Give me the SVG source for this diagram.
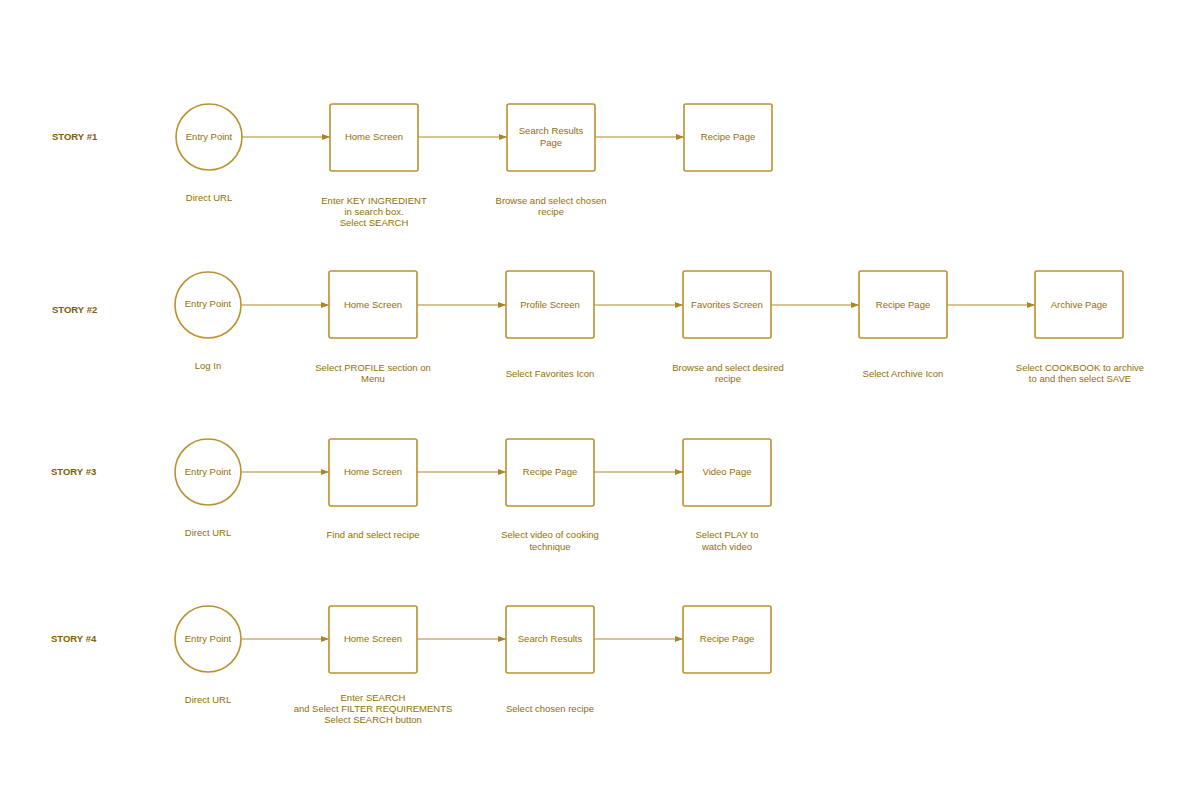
<svg xmlns="http://www.w3.org/2000/svg" width="1200" height="800" viewBox="0 0 1200 800">
<style>
.node{fill:#fff;stroke:#b8922e;stroke-width:1.6}
.lbl{font-family:"Liberation Sans",Arial,sans-serif;font-size:9.5px;fill:#927000;text-anchor:middle}
.story{font-family:"Liberation Sans",Arial,sans-serif;font-size:9.5px;font-weight:bold;fill:#7e6000}
.conn{stroke:#b08a2a;stroke-width:1.1;fill:none;marker-end:url(#ah)}
</style>
<defs>
<marker id="ah" markerWidth="8" markerHeight="6" refX="8" refY="3" orient="auto" markerUnits="userSpaceOnUse">
<path d="M0,0 L8,3 L0,6 Z" fill="#a8842a"/>
</marker>
</defs>
<rect width="1200" height="800" fill="#fff"/>

<g id="connectors">
<path class="conn" d="M242,137 H330"/>
<path class="conn" d="M418,137 H507"/>
<path class="conn" d="M595,137 H684"/>

<path class="conn" d="M241,305 H329"/>
<path class="conn" d="M417,305 H506"/>
<path class="conn" d="M594,305 H683"/>
<path class="conn" d="M771,305 H859"/>
<path class="conn" d="M947,305 H1035"/>

<path class="conn" d="M241,472 H329"/>
<path class="conn" d="M417,472 H506"/>
<path class="conn" d="M594,472 H683"/>

<path class="conn" d="M241,639 H329"/>
<path class="conn" d="M417,639 H506"/>
<path class="conn" d="M594,639 H683"/>
</g>

<!-- Story 1 -->
<text class="story" x="52" y="139.5">STORY #1</text>
<g id="s1-entry"><circle class="node" cx="209" cy="137" r="33"/><text class="lbl" x="209" y="140">Entry Point</text></g>
<g id="s1-home"><rect class="node" x="330" y="104" width="88" height="67" rx="2"/><text class="lbl" x="374" y="140">Home Screen</text></g>
<g id="s1-search"><rect class="node" x="507" y="104" width="88" height="67" rx="2"/><text class="lbl" x="551" y="134">Search Results</text><text class="lbl" x="551" y="146">Page</text></g>
<g id="s1-recipe"><rect class="node" x="684" y="104" width="88" height="67" rx="2"/><text class="lbl" x="728" y="140">Recipe Page</text></g>
<text class="lbl" x="209" y="200.5">Direct URL</text>
<text class="lbl" x="374" y="203.5">Enter KEY INGREDIENT</text>
<text class="lbl" x="374" y="214.5">in search box.</text>
<text class="lbl" x="374" y="225.5">Select SEARCH</text>
<text class="lbl" x="551" y="203.5">Browse and select chosen</text>
<text class="lbl" x="551" y="214.5">recipe</text>

<!-- Story 2 -->
<text class="story" x="52" y="313">STORY #2</text>
<g id="s2-entry"><circle class="node" cx="208" cy="305" r="33"/><text class="lbl" x="208" y="307">Entry Point</text></g>
<g id="s2-home"><rect class="node" x="329" y="271" width="88" height="67" rx="2"/><text class="lbl" x="373" y="307.5">Home Screen</text></g>
<g id="s2-profile"><rect class="node" x="506" y="271" width="88" height="67" rx="2"/><text class="lbl" x="550" y="307.5">Profile Screen</text></g>
<g id="s2-favorites"><rect class="node" x="683" y="271" width="88" height="67" rx="2"/><text class="lbl" x="727" y="307.5">Favorites Screen</text></g>
<g id="s2-recipe"><rect class="node" x="859" y="271" width="88" height="67" rx="2"/><text class="lbl" x="903" y="307.5">Recipe Page</text></g>
<g id="s2-archive"><rect class="node" x="1035" y="271" width="88" height="67" rx="2"/><text class="lbl" x="1079" y="307.5">Archive Page</text></g>
<text class="lbl" x="208" y="368.5">Log In</text>
<text class="lbl" x="373" y="370.5">Select PROFILE section on</text>
<text class="lbl" x="373" y="382">Menu</text>
<text class="lbl" x="550" y="376.5">Select Favorites Icon</text>
<text class="lbl" x="728" y="370.5">Browse and select desired</text>
<text class="lbl" x="728" y="382">recipe</text>
<text class="lbl" x="903" y="376.5">Select Archive Icon</text>
<text class="lbl" x="1080" y="370.5">Select COOKBOOK to archive</text>
<text class="lbl" x="1080" y="382">to and then select SAVE</text>

<!-- Story 3 -->
<text class="story" x="51" y="474.5">STORY #3</text>
<g id="s3-entry"><circle class="node" cx="208" cy="472" r="33"/><text class="lbl" x="208" y="474.5">Entry Point</text></g>
<g id="s3-home"><rect class="node" x="329" y="439" width="88" height="67" rx="2"/><text class="lbl" x="373" y="475">Home Screen</text></g>
<g id="s3-recipe"><rect class="node" x="506" y="439" width="88" height="67" rx="2"/><text class="lbl" x="550" y="475">Recipe Page</text></g>
<g id="s3-video"><rect class="node" x="683" y="439" width="88" height="67" rx="2"/><text class="lbl" x="727" y="475">Video Page</text></g>
<text class="lbl" x="208" y="535.5">Direct URL</text>
<text class="lbl" x="373" y="537.5">Find and select recipe</text>
<text class="lbl" x="550" y="538">Select video of cooking</text>
<text class="lbl" x="550" y="549.5">technique</text>
<text class="lbl" x="727" y="538">Select PLAY to</text>
<text class="lbl" x="727" y="549.5">watch video</text>

<!-- Story 4 -->
<text class="story" x="51" y="641.5">STORY #4</text>
<g id="s4-entry"><circle class="node" cx="208" cy="639" r="33"/><text class="lbl" x="208" y="641.5">Entry Point</text></g>
<g id="s4-home"><rect class="node" x="329" y="606" width="88" height="67" rx="2"/><text class="lbl" x="373" y="642">Home Screen</text></g>
<g id="s4-search"><rect class="node" x="506" y="606" width="88" height="67" rx="2"/><text class="lbl" x="550" y="642">Search Results</text></g>
<g id="s4-recipe"><rect class="node" x="683" y="606" width="88" height="67" rx="2"/><text class="lbl" x="727" y="642">Recipe Page</text></g>
<text class="lbl" x="208" y="702.5">Direct URL</text>
<text class="lbl" x="373" y="700.5">Enter SEARCH</text>
<text class="lbl" x="373" y="711.5">and Select FILTER REQUIREMENTS</text>
<text class="lbl" x="373" y="722.5">Select SEARCH button</text>
<text class="lbl" x="550" y="711.5">Select chosen recipe</text>
</svg>
